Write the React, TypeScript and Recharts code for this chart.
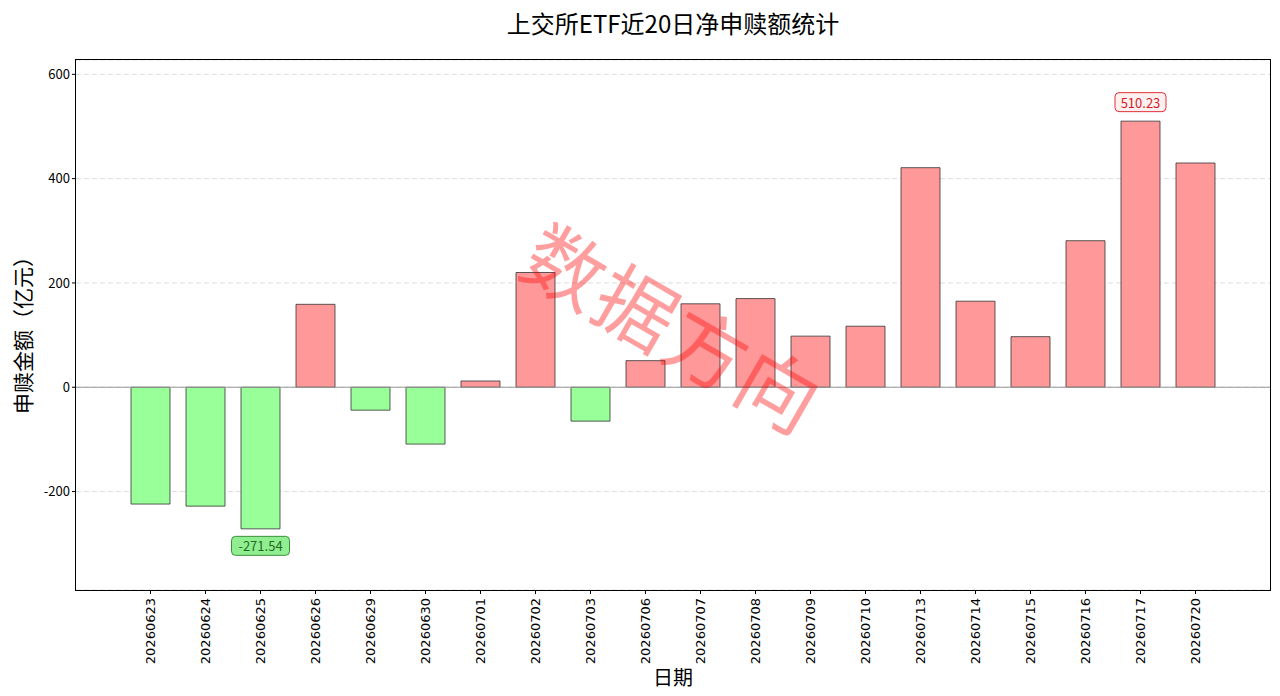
import React from "react";
import {
    Bar,
    BarChart,
    CartesianGrid,
    Cell,
    LabelList,
    ReferenceLine,
    XAxis,
    YAxis,
} from "recharts";

const dates = [
    "20260623", "20260624", "20260625", "20260626", "20260629",
    "20260630", "20260701", "20260702", "20260703", "20260706",
    "20260707", "20260708", "20260709", "20260710", "20260713",
    "20260714", "20260715", "20260716", "20260717", "20260720",
];

// 净申赎额（亿元）
const netFlows = [
    -224, -228, -271.54, 159, -44,
    -109, 12, 220, -65, 51,
    160, 170, 98, 117, 421,
    165, 97, 281, 510.23, 430,
];

const yTicks = [-200, 0, 200, 400, 600];

const data = dates.map((date, i) => ({ date, value: netFlows[i] }));

const maxVal = Math.max(...netFlows);
const minVal = Math.min(...netFlows);
const maxIdx = netFlows.indexOf(maxVal);
const minIdx = netFlows.indexOf(minVal);
const span = maxVal - minVal;
const yDomain: [number, number] = [minVal - span * 0.15, maxVal + span * 0.15];

const CJK = '"Noto Sans CJK SC", "Noto Sans", sans-serif';
const POS_FILL = "#ff9999";
const NEG_FILL = "#99ff99";

const DateTick = (props: any) => {
    const { x, y, payload } = props;
    return (
        <g transform={`translate(${x},${y + 2}) rotate(-90)`}>
            <text
                x={0}
                y={0}
                textAnchor="end"
                dominantBaseline="central"
                fontFamily='"DejaVu Sans", sans-serif'
                fontSize={13}
                fill="#000"
            >
                {payload.value}
            </text>
        </g>
    );
};

const ExtremeLabel = (props: any) => {
    const { x, y, width, height, index, value } = props;
    if (index !== maxIdx && index !== minIdx) return null;
    const cx = x + width / 2;
    const top = Math.min(y, y + height);
    const bottom = Math.max(y, y + height);
    const isMax = index === maxIdx;
    const cy = isMax ? top - 19 : bottom + 17;
    const text = Number(value).toFixed(2);
    const w = text.length * 7 + 9;
    return (
        <g>
            <rect
                x={cx - w / 2}
                y={cy - 9.5}
                width={w}
                height={19}
                rx={4}
                fill={isMax ? "#fff0f0" : "#90ee90"}
                stroke={isMax ? "#e0303a" : "#3a8f3a"}
                strokeWidth={1}
            />
            <text
                x={cx}
                y={cy}
                textAnchor="middle"
                dominantBaseline="central"
                fontFamily={CJK}
                fontSize={13}
                fill={isMax ? "#d01c28" : "#1f6b1f"}
            >
                {text}
            </text>
        </g>
    );
};

export default function App() {
    return (
        <div style={{ position: "absolute", left: 0, top: 0, width: 1280, height: 696, background: "#fff" }}>
            <div
                style={{
                    position: "absolute",
                    left: 673,
                    top: 22,
                    transform: "translate(-50%, -50%)",
                    fontFamily: CJK,
                    fontSize: 24,
                    whiteSpace: "nowrap",
                    color: "#000",
                }}
            >
                上交所ETF近20日净申赎额统计
            </div>
            <div
                style={{
                    position: "absolute",
                    left: 22,
                    top: 330,
                    transform: "translate(-50%, -50%) rotate(-90deg)",
                    fontFamily: CJK,
                    fontSize: 21,
                    whiteSpace: "nowrap",
                    color: "#000",
                }}
            >
                申赎金额（亿元）
            </div>
            <div
                style={{
                    position: "absolute",
                    left: 673,
                    top: 676,
                    transform: "translate(-50%, -50%)",
                    fontFamily: CJK,
                    fontSize: 20,
                    whiteSpace: "nowrap",
                    color: "#000",
                }}
            >
                日期
            </div>
            <BarChart
                width={1280}
                height={696}
                data={data}
                margin={{ top: 60, right: 10, left: 6, bottom: 6 }}
                barSize={39}
            >
                <CartesianGrid stroke="#dddddd" strokeDasharray="5 3" vertical={false} />
                <XAxis
                    dataKey="date"
                    interval={0}
                    height={100}
                    padding={{ left: 47, right: 47 }}
                    axisLine={false}
                    tickLine={{ stroke: "#000" }}
                    tickSize={4}
                    tick={<DateTick />}
                />
                <YAxis
                    domain={yDomain}
                    ticks={yTicks}
                    allowDataOverflow
                    width={70}
                    axisLine={false}
                    tickLine={{ stroke: "#000" }}
                    tickSize={4}
                    tick={{ fill: "#000", fontSize: 13, fontFamily: CJK }}
                />
                <ReferenceLine y={0} stroke="#999" strokeWidth={1} />
                <Bar dataKey="value" stroke="#333" strokeWidth={0.8} isAnimationActive={false}>
                    {data.map((d) => (
                        <Cell key={d.date} fill={d.value >= 0 ? POS_FILL : NEG_FILL} />
                    ))}
                    <LabelList dataKey="value" content={<ExtremeLabel />} />
                </Bar>
            </BarChart>
            {/* plot frame */}
            <div
                style={{
                    position: "absolute",
                    left: 75,
                    top: 59,
                    width: 1196,
                    height: 532,
                    border: "1px solid #000",
                    boxSizing: "border-box",
                    pointerEvents: "none",
                }}
            />
            <div
                style={{
                    position: "absolute",
                    left: 675,
                    top: 325,
                    transform: "translate(-50%, -50%) rotate(30deg)",
                    fontFamily: CJK,
                    fontSize: 80,
                    whiteSpace: "nowrap",
                    color: "rgba(255, 0, 0, 0.38)",
                    pointerEvents: "none",
                    letterSpacing: 2,
                }}
            >
                数据方向
            </div>
        </div>
    );
}
